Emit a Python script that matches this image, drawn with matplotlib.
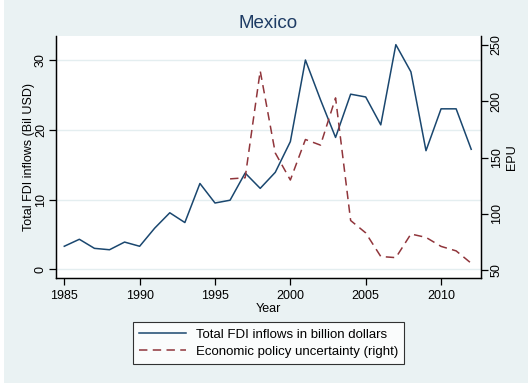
import matplotlib
matplotlib.use("Agg")
import matplotlib.pyplot as plt
from matplotlib.patches import Rectangle

plt.rcParams['font.family'] = ['Liberation Sans', 'DejaVu Sans']

# FDI inflows (billion USD), Mexico
fdi_years = list(range(1985, 2013))
fdi_values = [3.3, 4.3, 3.0, 2.8, 3.9, 3.3, 5.9, 8.1, 6.7, 12.3, 9.5, 9.9,
              13.8, 11.6, 13.9, 18.3, 30.0, 24.3, 18.9, 25.1, 24.7, 20.7,
              32.2, 28.3, 17.0, 23.0, 23.0, 17.2]

# Economic policy uncertainty index
epu_years = list(range(1996, 2013))
epu_values = [131, 132, 227, 154, 130, 166, 161, 203, 94, 83, 62, 61,
              82, 79, 71, 67, 56]

x_ticks = [1985, 1990, 1995, 2000, 2005, 2010]
left_ticks = [0, 10, 20, 30]
right_ticks = [50, 100, 150, 200, 250]

bg = '#eaf2f3'
navy = '#1a476f'
maroon = '#90353b'

W, H = 528, 385
fig = plt.figure(figsize=(W / 100, H / 100), dpi=100, facecolor=bg)

# thin white margin along the left and bottom edges of the graph region
fig.patches.append(Rectangle((0, 0), 4 / W, 1, transform=fig.transFigure,
                             facecolor='white', edgecolor='none', zorder=0))
fig.patches.append(Rectangle((0, 0), 1, 2.5 / H, transform=fig.transFigure,
                             facecolor='white', edgecolor='none', zorder=0))

ax = fig.add_axes([56 / W, 1 - 278 / H, 425 / W, 242 / H])
ax.set_facecolor('white')
ax2 = ax.twinx()

ax.plot(fdi_years, fdi_values, color=navy, lw=1.1, label='Total FDI inflows in billion dollars')
ax2.plot(epu_years, epu_values, color=maroon, lw=1.1, ls=(0, (5.5, 3.5)),
         label='Economic policy uncertainty (right)')

ax.set_xlim(1984.45, 2012.65)
ax.set_ylim(-1.25, 33.44)
ax2.set_ylim(42.9, 258)

ax.set_xticks(x_ticks)
ax.set_yticks(left_ticks)
ax2.set_yticks(right_ticks)
ax.grid(axis='y', color='#e4eef0', lw=1.0)
ax.set_axisbelow(True)

for a in (ax, ax2):
    a.spines['top'].set_visible(False)
    for s in ('left', 'right', 'bottom'):
        a.spines[s].set_linewidth(0.9)
        a.spines[s].set_color('black')
    a.tick_params(length=5, width=0.9, labelsize=9, colors='black')

ax.tick_params(axis='y', pad=1.5)
ax2.tick_params(axis='y', pad=2)
for lab in ax.get_yticklabels() + ax2.get_yticklabels():
    lab.set_rotation(90)
    lab.set_va('center')

ax.set_xlabel('Year', fontsize=9, labelpad=1)
ax.set_ylabel('Total FDI inflows (Bil USD)', fontsize=9, labelpad=0)
ax2.set_ylabel('EPU', fontsize=9, labelpad=2)

fig.text(268.5 / W, 1 - 23 / H, 'Mexico', ha='center', va='center', fontsize=13.5,
         color='#1e3c64')

h1, l1 = ax.get_legend_handles_labels()
h2, l2 = ax2.get_legend_handles_labels()
leg = fig.legend(h1 + h2, l1 + l2, loc='center', bbox_to_anchor=(268.5 / W, 1 - 343 / H),
                 fontsize=9.5, frameon=True, fancybox=False, edgecolor='black',
                 handlelength=3.6, handletextpad=0.75, borderpad=0.45, labelspacing=0.36)
leg.get_frame().set_linewidth(0.8)

fig.savefig('out.png', dpi=100, facecolor=bg)
